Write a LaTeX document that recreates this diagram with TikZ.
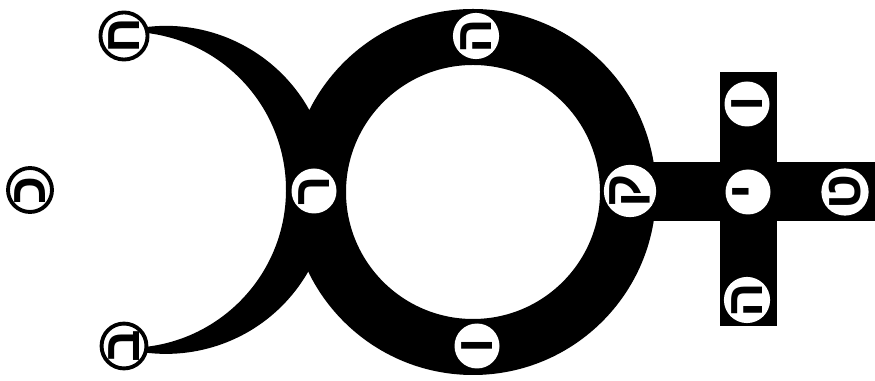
\documentclass[tikz,border=0pt]{standalone}
\usepackage{fontspec}
\usepackage{tikz}
\newfontfamily\hebfont[Script=Hebrew]{Liberation Sans}
\tikzset{
  band/.style={fill=black},
  hebdisc/.style={circle, fill=white, inner sep=0pt, minimum size=0.9cm,
    font=\hebfont\bfseries\fontsize{29}{29}\selectfont},
  ringdisc/.style={hebdisc, draw=black, line width=2.2pt, minimum size=0.88cm}
}

\begin{document}
\begin{tikzpicture}[x=0.02cm, y=0.02cm]
  \useasboundingbox (0,0) rectangle (875,381);

  \fill[band] (121.4,348.9) arc[start angle=105.8, end angle=-105.8, radius=164]
    arc[start angle=-92.4, end angle=92.4, radius=158] -- cycle;
  \fill[band, even odd rule] (473,189) circle (183) (473,189) circle (127);
  \fill[band] (720,55) rectangle (777,309);
  \fill[band] (640,160) rectangle (875,219);

  \node[ringdisc, rotate=90] (kaf) at (30,191) {כ};
  \node[ringdisc, rotate=90] (hornhi) at (124,345) {ח};
  \node[ringdisc, rotate=90] (hornlo) at (124,35) {ב};
  \node[hebdisc, rotate=90] (meet) at (314,190) {ר};
  \node[hebdisc, rotate=90] (ringhi) at (476,345) {ה};
  \node[hebdisc, rotate=90] (ringlo) at (477,35) {ו};
  \node[hebdisc, rotate=90] (ringrt) at (630,190) {ק};
  \node[hebdisc, rotate=90] (crosshi) at (747,277) {ו};
  \node[hebdisc, rotate=90] (crossmid) at (748,189) {י};
  \node[hebdisc, rotate=90] (crosslo) at (747,81) {ה};
  \node[hebdisc, rotate=90] (crossrt) at (845,189) {ט};
\end{tikzpicture}
\end{document}
